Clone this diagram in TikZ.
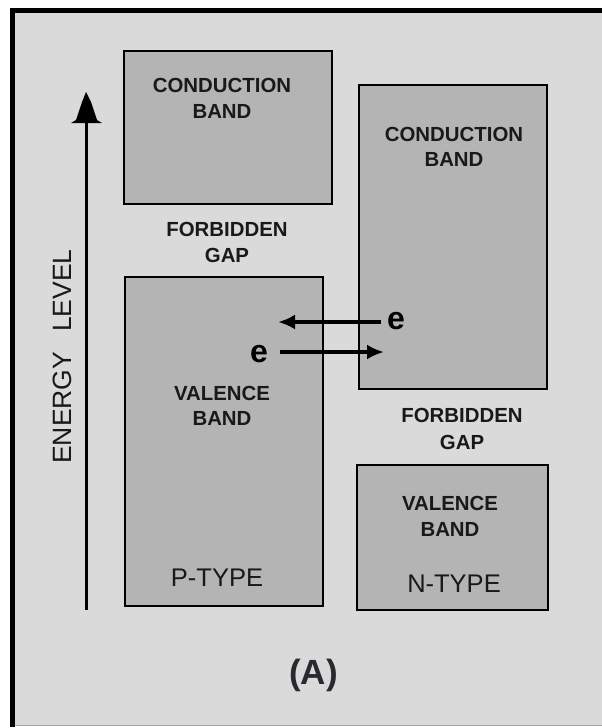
\documentclass[tikz,border=0pt]{standalone}
\usepackage{fontspec}
\setmainfont{Liberation Sans}
\usetikzlibrary{arrows.meta}
\definecolor{bgc}{RGB}{218,218,218}
\definecolor{bandc}{RGB}{180,180,180}
\definecolor{txtc}{RGB}{25,25,25}
\definecolor{labc}{RGB}{40,42,48}
\tikzset{
  band/.style={draw=black, line width=2.5pt, fill=bandc, inner sep=0pt, outer sep=0pt},
  blabel/.style={inner sep=0pt, align=center, text=txtc, font=\bfseries\fontsize{20.4}{25.5}\selectfont},
  glabel/.style={inner sep=0pt, align=center, text=txtc, font=\bfseries\fontsize{20.4}{26.5}\selectfont},
  typelabel/.style={inner sep=0pt, text=txtc, font=\fontsize{25.5}{30}\selectfont},
  elabel/.style={inner sep=0pt, anchor=base, text=black, font=\bfseries\fontsize{32}{36}\selectfont},
  flow/.style={line width=4pt, -{Latex[length=17pt,width=15pt]}},
}
\begin{document}
\begin{tikzpicture}[x=1pt,y=-1pt]
\useasboundingbox (0,0) rectangle (602,728);
% frame
\fill[white] (0,0) rectangle (602,728);
\fill[bgc] (15,13) rectangle (602,726);
\fill[black] (10,8) rectangle (602,13);
\fill[black] (10,8) rectangle (15,727);
\draw[gray!70, line width=1.5pt] (15,725.5) -- (602,725.5);
% bands
\node[band, minimum width=208, minimum height=153] (cb1) at (228,127.5) {};
\node[band, minimum width=198, minimum height=329] (vb1) at (224,441.5) {};
\node[band, minimum width=188, minimum height=304] (cb2) at (453,237) {};
\node[band, minimum width=191, minimum height=145] (vb2) at (452.5,537.5) {};
% labels
\node[blabel] (cb1t) at (222,98.5) {CONDUCTION\\BAND};
\node[glabel] (fg1) at (227,242.5) {FORBIDDEN\\GAP};
\node[blabel] (cb2t) at (454,147) {CONDUCTION\\BAND};
\node[glabel] (fg2) at (462,429) {FORBIDDEN\\GAP};
\node[blabel] (vb1t) at (222,406) {VALENCE\\BAND};
\node[blabel] (vb2t) at (450,516.5) {VALENCE\\BAND};
\node[typelabel] (pt) at (217,578) {P-TYPE};
\node[typelabel] (nt) at (454,584) {N-TYPE};
\node[inner sep=0pt, text=labc, font=\bfseries\fontsize{35}{40}\selectfont] (lab) at (313.5,675) {(A)};
% energy axis
\node[inner sep=0pt, rotate=90, text=txtc, font=\fontsize{26.5}{30}\selectfont] (en) at (62,356.5) {ENERGY\hspace{20pt}LEVEL};
\coordinate (ebot) at (86,610);
\coordinate (etop) at (86,118);
\coordinate (etip) at (86,92);
\draw[line width=3pt, black] (ebot) -- (etop);
\fill[black] (etip) -- ++(-4,10) -- ++(-6,18) -- ++(-5,3) -- ++(31,0) -- ++(-5,-3) -- ++(-6,-18) -- cycle;
% electrons
\node[elabel] (e1) at (396,329) {e};
\node[elabel] (e2) at (259,362) {e};
\coordinate (a1s) at (381,322);
\coordinate (a1e) at (278,322);
\coordinate (a2s) at (280,352);
\coordinate (a2e) at (384,352);
\draw[flow] (a1s) -- (a1e);
\draw[flow] (a2s) -- (a2e);
\end{tikzpicture}
\end{document}
